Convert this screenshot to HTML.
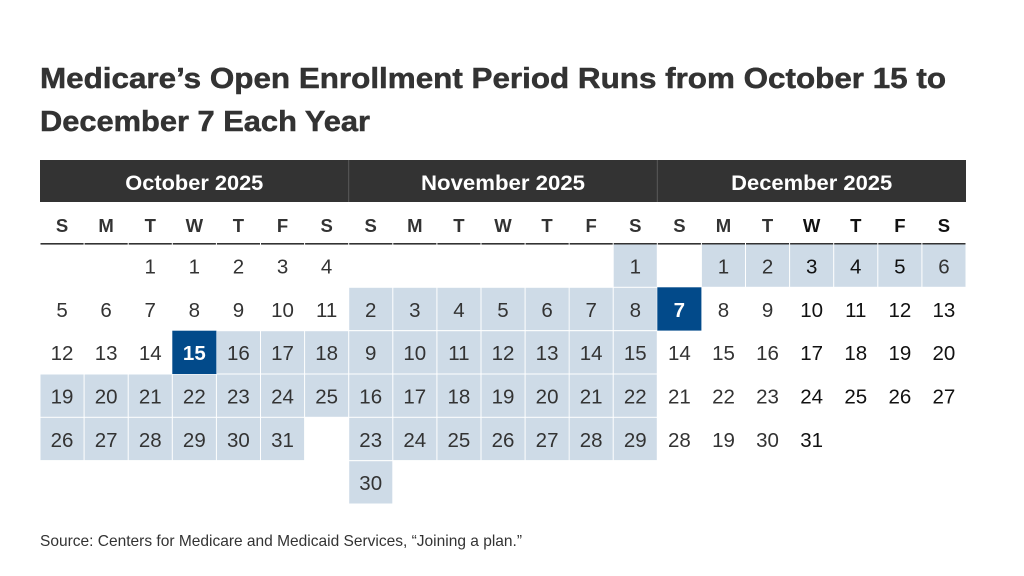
<!DOCTYPE html>
<html><head><meta charset="utf-8"><style>
html,body{margin:0;padding:0;background:#fff;width:1024px;height:576px;overflow:hidden}
svg{display:block}
.t{font-family:"Liberation Sans",sans-serif;font-weight:bold;fill:#333;stroke:#333;stroke-width:0.5;font-size:28.5px}
.m{font-family:"Liberation Sans",sans-serif;font-weight:bold;fill:#fff;font-size:21.5px;text-anchor:middle}
.d{font-family:"Liberation Sans",sans-serif;font-weight:bold;fill:#333;font-size:18.5px;text-anchor:middle}
.n{font-family:"Liberation Sans",sans-serif;fill:#333;font-size:20.5px;text-anchor:middle}
.k{fill:#111}
.w{fill:#fff;font-weight:bold}
.s{font-family:"Liberation Sans",sans-serif;fill:#333;font-size:16px}
.l{fill:#cedbe7}
.b{fill:#024a8a}
</style></head><body>
<svg width="1024" height="576" viewBox="0 0 1024 576" xmlns="http://www.w3.org/2000/svg">
<text class="t" x="40" y="88" textLength="906" lengthAdjust="spacingAndGlyphs">Medicare’s Open Enrollment Period Runs from October 15 to</text>
<text class="t" x="40" y="131" textLength="330" lengthAdjust="spacingAndGlyphs">December 7 Each Year</text>

<rect x="40" y="160" width="926" height="42" fill="#333"/>
<rect x="348.2" y="160" width="1" height="42" fill="#5a5a5a"/>
<rect x="656.8" y="160" width="1" height="42" fill="#5a5a5a"/>
<text class="m" x="194.3" y="190" textLength="138" lengthAdjust="spacingAndGlyphs">October 2025</text>
<text class="m" x="503" y="190" textLength="164" lengthAdjust="spacingAndGlyphs">November 2025</text>
<text class="m" x="811.7" y="190" textLength="161" lengthAdjust="spacingAndGlyphs">December 2025</text>

<g class="d">
<text x="62.05" y="232">S</text><text x="106.14" y="232">M</text><text x="150.24" y="232">T</text><text x="194.33" y="232">W</text><text x="238.43" y="232">T</text><text x="282.52" y="232">F</text><text x="326.62" y="232">S</text>
<text x="370.71" y="232">S</text><text x="414.81" y="232">M</text><text x="458.9" y="232">T</text><text x="503" y="232">W</text><text x="547.09" y="232">T</text><text x="591.19" y="232">F</text><text x="635.28" y="232">S</text>
<text x="679.38" y="232">S</text><text x="723.47" y="232">M</text><text x="767.57" y="232">T</text><text x="811.66" y="232" fill="#111">W</text><text x="855.76" y="232" fill="#111">T</text><text x="899.85" y="232" fill="#111">F</text><text x="943.95" y="232" fill="#111">S</text>
</g>

<g fill="#333">
<rect x="40.5" y="243" width="43.1" height="1.6"/><rect x="84.6" y="243" width="43.1" height="1.6"/><rect x="128.7" y="243" width="43.1" height="1.6"/><rect x="172.8" y="243" width="43.1" height="1.6"/><rect x="216.9" y="243" width="43.1" height="1.6"/><rect x="261" y="243" width="43.1" height="1.6"/><rect x="305.1" y="243" width="43.1" height="1.6"/>
<rect x="349.2" y="243" width="43.1" height="1.6"/><rect x="393.3" y="243" width="43.1" height="1.6"/><rect x="437.4" y="243" width="43.1" height="1.6"/><rect x="481.5" y="243" width="43.1" height="1.6"/><rect x="525.6" y="243" width="43.1" height="1.6"/><rect x="569.6" y="243" width="43.1" height="1.6"/><rect x="613.7" y="243" width="43.1" height="1.6"/>
<rect x="657.8" y="243" width="43.1" height="1.6"/><rect x="701.9" y="243" width="43.1" height="1.6"/><rect x="746" y="243" width="43.1" height="1.6"/><rect x="790.1" y="243" width="43.1" height="1.6"/><rect x="834.2" y="243" width="43.1" height="1.6"/><rect x="878.3" y="243" width="43.1" height="1.6"/><rect x="922.4" y="243" width="43.1" height="1.6"/>
</g>

<rect class="b" x="172.3" y="330.7" width="44.1" height="43.3"/>
<rect class="l" x="216.9" y="331.2" width="43.1" height="42.3"/><rect class="l" x="261" y="331.2" width="43.1" height="42.3"/><rect class="l" x="305.1" y="331.2" width="43.1" height="42.3"/>
<rect class="l" x="40.5" y="374.5" width="43.1" height="42.3"/><rect class="l" x="84.6" y="374.5" width="43.1" height="42.3"/><rect class="l" x="128.7" y="374.5" width="43.1" height="42.3"/><rect class="l" x="172.8" y="374.5" width="43.1" height="42.3"/><rect class="l" x="216.9" y="374.5" width="43.1" height="42.3"/><rect class="l" x="261" y="374.5" width="43.1" height="42.3"/><rect class="l" x="305.1" y="374.5" width="43.1" height="42.3"/>
<rect class="l" x="40.5" y="417.8" width="43.1" height="42.3"/><rect class="l" x="84.6" y="417.8" width="43.1" height="42.3"/><rect class="l" x="128.7" y="417.8" width="43.1" height="42.3"/><rect class="l" x="172.8" y="417.8" width="43.1" height="42.3"/><rect class="l" x="216.9" y="417.8" width="43.1" height="42.3"/><rect class="l" x="261" y="417.8" width="43.1" height="42.3"/>
<rect class="l" x="613.7" y="244.5" width="43.1" height="42.3"/>
<g class="l">
<rect x="349.2" y="287.8" width="43.1" height="42.3"/><rect x="393.3" y="287.8" width="43.1" height="42.3"/><rect x="437.4" y="287.8" width="43.1" height="42.3"/><rect x="481.5" y="287.8" width="43.1" height="42.3"/><rect x="525.6" y="287.8" width="43.1" height="42.3"/><rect x="569.6" y="287.8" width="43.1" height="42.3"/><rect x="613.7" y="287.8" width="43.1" height="42.3"/>
<rect x="349.2" y="331.2" width="43.1" height="42.3"/><rect x="393.3" y="331.2" width="43.1" height="42.3"/><rect x="437.4" y="331.2" width="43.1" height="42.3"/><rect x="481.5" y="331.2" width="43.1" height="42.3"/><rect x="525.6" y="331.2" width="43.1" height="42.3"/><rect x="569.6" y="331.2" width="43.1" height="42.3"/><rect x="613.7" y="331.2" width="43.1" height="42.3"/>
<rect x="349.2" y="374.5" width="43.1" height="42.3"/><rect x="393.3" y="374.5" width="43.1" height="42.3"/><rect x="437.4" y="374.5" width="43.1" height="42.3"/><rect x="481.5" y="374.5" width="43.1" height="42.3"/><rect x="525.6" y="374.5" width="43.1" height="42.3"/><rect x="569.6" y="374.5" width="43.1" height="42.3"/><rect x="613.7" y="374.5" width="43.1" height="42.3"/>
<rect x="349.2" y="417.8" width="43.1" height="42.3"/><rect x="393.3" y="417.8" width="43.1" height="42.3"/><rect x="437.4" y="417.8" width="43.1" height="42.3"/><rect x="481.5" y="417.8" width="43.1" height="42.3"/><rect x="525.6" y="417.8" width="43.1" height="42.3"/><rect x="569.6" y="417.8" width="43.1" height="42.3"/><rect x="613.7" y="417.8" width="43.1" height="42.3"/>
<rect x="349.2" y="461.2" width="43.1" height="42.3"/>
<rect x="701.9" y="244.5" width="43.1" height="42.3"/><rect x="746" y="244.5" width="43.1" height="42.3"/><rect x="790.1" y="244.5" width="43.1" height="42.3"/><rect x="834.2" y="244.5" width="43.1" height="42.3"/><rect x="878.3" y="244.5" width="43.1" height="42.3"/><rect x="922.4" y="244.5" width="43.1" height="42.3"/>
</g>
<rect class="b" x="657.3" y="287.3" width="44.1" height="43.3"/>

<g class="n">
<text x="150.24" y="273.5">1</text><text x="194.33" y="273.5">1</text><text x="238.43" y="273.5">2</text><text x="282.52" y="273.5">3</text><text x="326.62" y="273.5">4</text>
<text x="635.28" y="273.5">1</text>
<text x="723.47" y="273.5">1</text><text x="767.57" y="273.5">2</text><text class="k" x="811.66" y="273.5">3</text><text class="k" x="855.76" y="273.5">4</text><text class="k" x="899.85" y="273.5">5</text><text x="943.95" y="273.5">6</text>
<text x="62.05" y="316.8">5</text><text x="106.14" y="316.8">6</text><text x="150.24" y="316.8">7</text><text x="194.33" y="316.8">8</text><text x="238.43" y="316.8">9</text><text x="282.52" y="316.8">10</text><text x="326.62" y="316.8">11</text>
<text x="370.71" y="316.8">2</text><text x="414.81" y="316.8">3</text><text x="458.9" y="316.8">4</text><text x="503" y="316.8">5</text><text x="547.09" y="316.8">6</text><text x="591.19" y="316.8">7</text><text x="635.28" y="316.8">8</text>
<text class="w" x="679.38" y="316.8">7</text><text x="723.47" y="316.8">8</text><text x="767.57" y="316.8">9</text><text class="k" x="811.66" y="316.8">10</text><text class="k" x="855.76" y="316.8">11</text><text class="k" x="899.85" y="316.8">12</text><text class="k" x="943.95" y="316.8">13</text>
<text x="62.05" y="360.2">12</text><text x="106.14" y="360.2">13</text><text x="150.24" y="360.2">14</text><text class="w" x="194.33" y="360.2">15</text><text x="238.43" y="360.2">16</text><text x="282.52" y="360.2">17</text><text x="326.62" y="360.2">18</text>
<text x="370.71" y="360.2">9</text><text x="414.81" y="360.2">10</text><text x="458.9" y="360.2">11</text><text x="503" y="360.2">12</text><text x="547.09" y="360.2">13</text><text x="591.19" y="360.2">14</text><text x="635.28" y="360.2">15</text>
<text x="679.38" y="360.2">14</text><text x="723.47" y="360.2">15</text><text x="767.57" y="360.2">16</text><text class="k" x="811.66" y="360.2">17</text><text class="k" x="855.76" y="360.2">18</text><text class="k" x="899.85" y="360.2">19</text><text class="k" x="943.95" y="360.2">20</text>
<text x="62.05" y="403.5">19</text><text x="106.14" y="403.5">20</text><text x="150.24" y="403.5">21</text><text x="194.33" y="403.5">22</text><text x="238.43" y="403.5">23</text><text x="282.52" y="403.5">24</text><text x="326.62" y="403.5">25</text>
<text x="370.71" y="403.5">16</text><text x="414.81" y="403.5">17</text><text x="458.9" y="403.5">18</text><text x="503" y="403.5">19</text><text x="547.09" y="403.5">20</text><text x="591.19" y="403.5">21</text><text x="635.28" y="403.5">22</text>
<text x="679.38" y="403.5">21</text><text x="723.47" y="403.5">22</text><text x="767.57" y="403.5">23</text><text class="k" x="811.66" y="403.5">24</text><text class="k" x="855.76" y="403.5">25</text><text class="k" x="899.85" y="403.5">26</text><text class="k" x="943.95" y="403.5">27</text>
<text x="62.05" y="446.8">26</text><text x="106.14" y="446.8">27</text><text x="150.24" y="446.8">28</text><text x="194.33" y="446.8">29</text><text x="238.43" y="446.8">30</text><text x="282.52" y="446.8">31</text>
<text x="370.71" y="446.8">23</text><text x="414.81" y="446.8">24</text><text x="458.9" y="446.8">25</text><text x="503" y="446.8">26</text><text x="547.09" y="446.8">27</text><text x="591.19" y="446.8">28</text><text x="635.28" y="446.8">29</text>
<text x="679.38" y="446.8">28</text><text x="723.47" y="446.8">19</text><text x="767.57" y="446.8">30</text><text class="k" x="811.66" y="446.8">31</text>
<text x="370.71" y="490.2">30</text>
</g>

<text class="s" x="40" y="546" textLength="482" lengthAdjust="spacingAndGlyphs">Source: Centers for Medicare and Medicaid Services, “Joining a plan.”</text>
</svg>
</body></html>
